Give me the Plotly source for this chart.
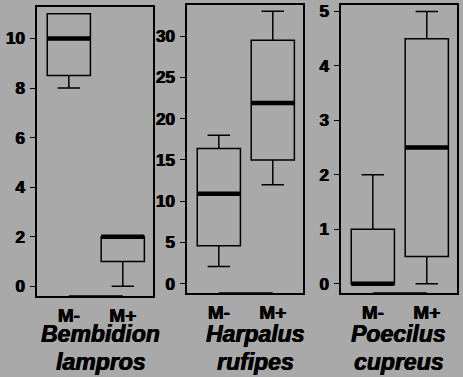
import plotly.graph_objects as go

groups = ["M-", "M+"]
genus = ["Bembidion", "Harpalus", "Poecilus"]
epithet = ["lampros", "rufipes", "cupreus"]

# per species: [M-, M+]
lower = [[8, 0], [2.1, 12], [0, 0]]
q1 = [[8.5, 1], [4.6, 15], [0, 0.5]]
median = [[10, 2], [10.9, 21.9], [0, 2.5]]
q3 = [[11, 2], [16.4, 29.5], [1, 4.5]]
upper = [[11, 2], [18, 33], [2, 5]]

y_ticks = [[0, 2, 4, 6, 8, 10], [0, 5, 10, 15, 20, 25, 30], [0, 1, 2, 3, 4, 5]]
y_ranges = [[-0.41, 11.27], [-1.17, 33.77], [-0.18, 5.12]]

W, H = 463, 377
panels_px = [(37, 153, 5, 296), (187, 303, 3, 293), (341, 457, 3, 293)]
label_cx = [100, 255, 398]
BOX_W = 0.8
BG = "#a9a9a9"
FONT = "Liberation Sans"
HEAVY = "0.5px 0 0 black, -0.3px 0 0 black"

fig = go.Figure()
xs = [0, 1]
for i in range(3):
    ax = "" if i == 0 else str(i + 1)
    fig.add_trace(go.Box(
        x=xs, q1=q1[i], median=median[i], q3=q3[i],
        lowerfence=lower[i], upperfence=upper[i],
        width=BOX_W, whiskerwidth=0.52,
        line=dict(color="black", width=1.5),
        fillcolor="rgba(0,0,0,0)", boxpoints=False,
        xaxis="x" + ax, yaxis="y" + ax, showlegend=False, hoverinfo="skip"))
    for j, xv in enumerate(xs):
        fig.add_trace(go.Scatter(
            x=[xv - BOX_W / 2, xv + BOX_W / 2], y=[median[i][j]] * 2,
            mode="lines", line=dict(color="black", width=4.5),
            xaxis="x" + ax, yaxis="y" + ax, showlegend=False, hoverinfo="skip"))
    # bottom axis line between categories (R-style)
    fig.add_trace(go.Scatter(
        x=xs, y=[y_ranges[i][0]] * 2, mode="lines",
        line=dict(color="black", width=2.5), cliponaxis=False,
        xaxis="x" + ax, yaxis="y" + ax, showlegend=False, hoverinfo="skip"))

    x0, x1, y0, y1 = panels_px[i]
    xd = [x0 / W, x1 / W]
    yd = [1 - y1 / H, 1 - y0 / H]
    common = dict(showline=True, mirror=True, linecolor="black", linewidth=1.5,
                  showgrid=False, zeroline=False)
    fig.layout["xaxis" + ax] = dict(
        domain=xd, range=[-0.59, 1.56], tickvals=xs, ticktext=groups,
        ticks="", ticklabelstandoff=1,
        tickfont=dict(family=FONT, size=19, color="black", weight="bold", shadow=HEAVY),
        anchor="y" + ax, **common)
    fig.layout["yaxis" + ax] = dict(
        domain=yd, range=y_ranges[i], tickvals=y_ticks[i],
        ticks="outside", ticklen=5, tickwidth=1.2, tickcolor="black",
        ticklabelstandoff=2,
        tickfont=dict(family=FONT, size=17, color="black", weight="bold", shadow=HEAVY),
        anchor="x" + ax, **common)
    for txt, yc in ((genus[i], 334), (epithet[i], 362)):
        fig.add_annotation(
            text=txt, x=label_cx[i] / W, y=1 - yc / H,
            xref="paper", yref="paper", xanchor="center", yanchor="middle",
            showarrow=False,
            font=dict(family=FONT, size=23, color="black", weight="bold",
                      style="italic", shadow=HEAVY))

fig.update_layout(width=W, height=H, margin=dict(l=0, r=0, t=0, b=0),
                  paper_bgcolor=BG, plot_bgcolor=BG)
fig.write_html("out.html", config={"displayModeBar": False},
               post_script="document.body.style.margin='0';")
